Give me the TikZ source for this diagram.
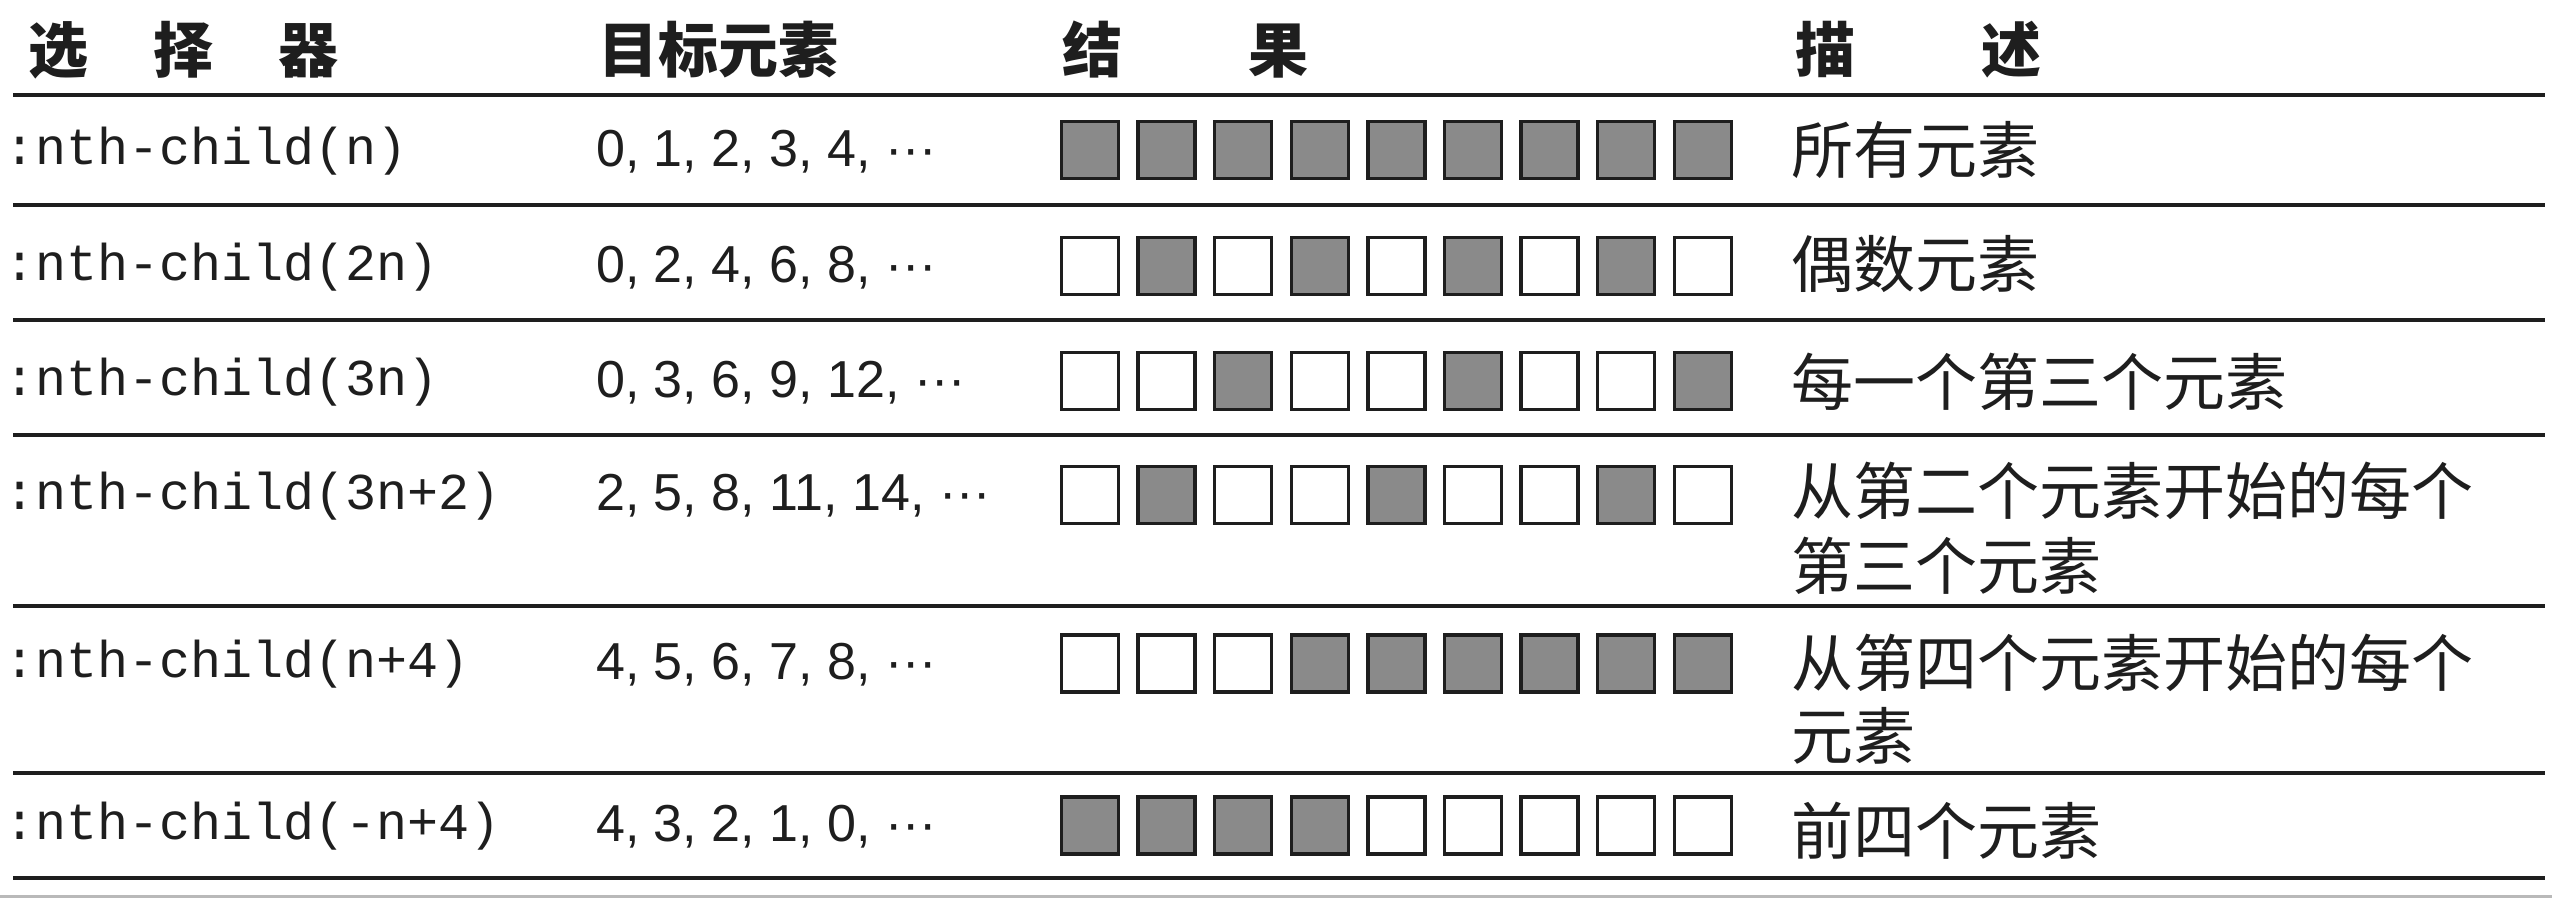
\documentclass[tikz,border=0pt]{standalone}
\usepackage{fontspec}
\setmainfont{Liberation Sans}
\newfontfamily\monof{Liberation Mono}
\newfontfamily\cjk{Noto Sans CJK SC}
\definecolor{sqfill}{RGB}{138,138,138}
\definecolor{ink}{RGB}{30,30,30}
\tikzset{
  rule/.style={draw=ink, line width=4pt},
  cell/.style={draw=ink, line width=3.5pt, minimum size=57pt, inner sep=0pt, fill=white},
  on/.style={fill=sqfill},
  head/.style={anchor=base west, inner sep=0pt, font=\cjk\bfseries\fontsize{60}{70}\selectfont, text=ink},
  sel/.style={anchor=base west, inner sep=0pt, font=\monof\fontsize{51.7}{60}\selectfont, text=ink},
  tgt/.style={anchor=base west, inner sep=0pt, font=\fontsize{52}{60}\selectfont, text=ink},
  desc/.style={anchor=base west, inner sep=0pt, font=\cjk\fontsize{62}{75}\selectfont, text=ink}
}
\begin{document}
\begin{tikzpicture}[x=1pt,y=-1pt]
\useasboundingbox (0,0) rectangle (2552,898);
\fill[white] (0,0) rectangle (2552,898);
\fill[gray!55] (0,895) rectangle (2552,898);
% header
\node[head] (h1) at (28,72) {选\hspace{65pt}择\hspace{65pt}器};
\node[head] (h2) at (598,72) {目标元素};
\node[head] (h3) at (1062,72) {结\hspace{126pt}果};
\node[head] (h4) at (1795,72) {描\hspace{126pt}述};
% rules
\foreach \y in {95,205,320,435,606,773,878} {
  \draw[rule] (13,\y) -- (2545,\y);
}
% rows: center y / pattern
\foreach \r/\cy/\pat in {1/150/{1,1,1,1,1,1,1,1,1},
                         2/266/{0,1,0,1,0,1,0,1,0},
                         3/381/{0,0,1,0,0,1,0,0,1},
                         4/495/{0,1,0,0,1,0,0,1,0},
                         5/663.5/{0,0,0,1,1,1,1,1,1},
                         6/825.5/{1,1,1,1,0,0,0,0,0}} {
  \foreach \f [count=\i from 0] in \pat {
    \ifnum\f=1
      \node[cell,on] (s\r-\i) at ({1090+76.6*\i},\cy) {};
    \else
      \node[cell] (s\r-\i) at ({1090+76.6*\i},\cy) {};
    \fi
  }
}
% selectors
\node[sel] (a1) at (4,164) {:nth-child(n)};
\node[sel] (a2) at (4,280) {:nth-child(2n)};
\node[sel] (a3) at (4,395) {:nth-child(3n)};
\node[sel] (a4) at (4,509) {:nth-child(3n+2)};
\node[sel] (a5) at (4,677) {:nth-child(n+4)};
\node[sel] (a6) at (4,839) {:nth-child(-n+4)};
% targets
\node[tgt] (b1) at (596,166) {0, 1, 2, 3, 4, ···};
\node[tgt] (b2) at (596,282) {0, 2, 4, 6, 8, ···};
\node[tgt] (b3) at (596,397) {0, 3, 6, 9, 12, ···};
\node[tgt] (b4) at (596,510) {2, 5, 8, 11, 14, ···};
\node[tgt] (b5) at (596,679) {4, 5, 6, 7, 8, ···};
\node[tgt] (b6) at (596,841) {4, 3, 2, 1, 0, ···};
% descriptions
\node[desc] (c1) at (1791,173) {所有元素};
\node[desc] (c2) at (1791,287) {偶数元素};
\node[desc] (c3) at (1791,405) {每一个第三个元素};
\node[desc] (c4a) at (1791,514) {从第二个元素开始的每个};
\node[desc] (c4b) at (1791,589) {第三个元素};
\node[desc] (c5a) at (1791,686) {从第四个元素开始的每个};
\node[desc] (c5b) at (1791,759) {元素};
\node[desc] (c6) at (1791,854) {前四个元素};
\end{tikzpicture}
\end{document}
